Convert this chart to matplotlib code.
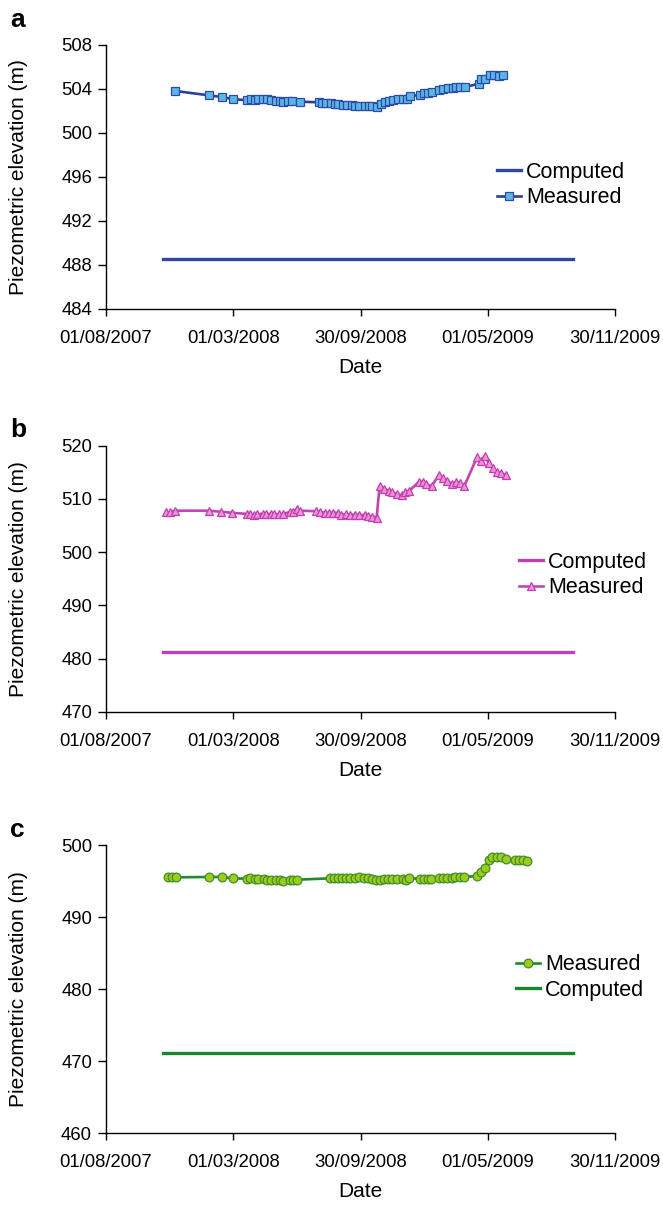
"""
Piezometric elevation: computed vs measured, three wells (a, b, c)
"""
import matplotlib
matplotlib.use('Agg')
import matplotlib.pyplot as plt
import matplotlib.dates as mdates
import pandas as pd

plt.rcParams['font.family'] = ['Liberation Sans', 'DejaVu Sans']

# ---- panel a ----
a_dates = ['2007-11-25', '2008-01-21', '2008-02-11', '2008-02-29', '2008-03-24', '2008-03-30',
           '2008-04-07', '2008-04-11', '2008-04-20', '2008-04-26', '2008-05-04', '2008-05-11',
           '2008-05-18', '2008-05-24', '2008-05-31', '2008-06-08', '2008-06-20', '2008-07-22',
           '2008-07-28', '2008-08-04', '2008-08-11', '2008-08-18', '2008-08-24', '2008-09-01',
           '2008-09-08', '2008-09-15', '2008-09-21', '2008-09-28', '2008-10-07', '2008-10-14',
           '2008-10-20', '2008-10-27', '2008-11-03', '2008-11-10', '2008-11-16', '2008-11-24',
           '2008-12-02', '2008-12-10', '2008-12-17', '2008-12-22', '2009-01-08', '2009-01-15',
           '2009-01-21', '2009-01-28', '2009-02-08', '2009-02-15', '2009-02-23', '2009-03-03',
           '2009-03-09', '2009-03-16', '2009-03-24', '2009-04-16', '2009-04-20', '2009-04-27',
           '2009-05-04', '2009-05-11', '2009-05-19', '2009-05-26']
a_measured = [503.82, 503.42, 503.27, 503.09, 502.97, 503.09,
              502.97, 503.06, 503.09, 503.06, 502.97, 502.91,
              502.88, 502.79, 502.88, 502.88, 502.85, 502.79,
              502.70, 502.70, 502.70, 502.67, 502.61, 502.55,
              502.52, 502.52, 502.48, 502.45, 502.48, 502.48,
              502.42, 502.33, 502.64, 502.82, 502.94, 503.03,
              503.09, 503.09, 503.12, 503.33, 503.48, 503.61,
              503.61, 503.70, 503.94, 504.03, 504.06, 504.09,
              504.18, 504.21, 504.18, 504.48, 504.88, 504.91,
              505.24, 505.27, 505.21, 505.24]
a_computed = 488.5

# ---- panel b ----
b_dates = ['2007-11-10', '2007-11-16', '2007-11-24', '2008-01-20', '2008-02-09', '2008-02-28',
           '2008-03-24', '2008-03-29', '2008-04-05', '2008-04-10', '2008-04-19', '2008-04-25',
           '2008-05-03', '2008-05-09', '2008-05-16', '2008-05-23', '2008-06-04', '2008-06-09',
           '2008-06-15', '2008-06-20', '2008-07-18', '2008-07-25', '2008-08-01', '2008-08-09',
           '2008-08-15', '2008-08-23', '2008-08-29', '2008-09-06', '2008-09-12', '2008-09-20',
           '2008-09-27', '2008-10-08', '2008-10-13', '2008-10-20', '2008-10-27', '2008-11-01',
           '2008-11-08', '2008-11-16', '2008-11-22', '2008-11-30', '2008-12-09', '2008-12-14',
           '2008-12-21', '2009-01-06', '2009-01-12', '2009-01-18', '2009-01-27', '2009-02-08',
           '2009-02-15', '2009-02-22', '2009-03-02', '2009-03-09', '2009-03-15', '2009-03-23',
           '2009-04-13', '2009-04-19', '2009-04-26', '2009-05-03', '2009-05-10', '2009-05-17',
           '2009-05-24', '2009-06-01']
b_measured = [507.5, 507.5, 507.8, 507.8, 507.6, 507.4,
              507.2, 507.25, 507.05, 507.1, 507.25, 507.2,
              507.2, 507.2, 507.1, 507.2, 507.55, 507.55,
              508.07, 507.8, 507.7, 507.6, 507.4, 507.4,
              507.4, 507.4, 507.05, 507.1, 507.05, 507.05,
              507.0, 507.0, 506.8, 506.7, 506.5, 512.4,
              511.9, 511.55, 511.25, 510.9, 510.7, 511.3,
              511.55, 513.25, 513.2, 512.8, 512.4, 514.45,
              513.9, 513.4, 512.8, 513.2, 512.95, 512.5,
              517.8, 517.1, 518.1, 516.7, 515.8, 515.1,
              514.8, 514.5]
b_computed = 481.3

# ---- panel c ----
c_dates = ['2007-11-13', '2007-11-19', '2007-11-26', '2008-01-21', '2008-02-11', '2008-02-29',
           '2008-03-24', '2008-03-29', '2008-04-06', '2008-04-11', '2008-04-21', '2008-04-27',
           '2008-05-04', '2008-05-11', '2008-05-18', '2008-05-24', '2008-06-04', '2008-06-09',
           '2008-06-15', '2008-08-10', '2008-08-16', '2008-08-23', '2008-08-30', '2008-09-06',
           '2008-09-13', '2008-09-21', '2008-09-27', '2008-10-06', '2008-10-13', '2008-10-19',
           '2008-10-26', '2008-11-02', '2008-11-08', '2008-11-15', '2008-11-22', '2008-11-30',
           '2008-12-10', '2008-12-15', '2008-12-20', '2009-01-08', '2009-01-15', '2009-01-21',
           '2009-01-26', '2009-02-08', '2009-02-15', '2009-02-22', '2009-03-02', '2009-03-08',
           '2009-03-15', '2009-03-22', '2009-04-13', '2009-04-19', '2009-04-26', '2009-05-03',
           '2009-05-08', '2009-05-17', '2009-05-24', '2009-05-31', '2009-06-15', '2009-06-22',
           '2009-06-29', '2009-07-05']
c_measured = [495.51, 495.51, 495.51, 495.56, 495.56, 495.37,
              495.32, 495.42, 495.23, 495.23, 495.23, 495.09,
              495.14, 495.09, 495.09, 495.0, 495.14, 495.18,
              495.18, 495.37, 495.37, 495.37, 495.37, 495.37,
              495.37, 495.37, 495.51, 495.37, 495.42, 495.23,
              495.14, 495.14, 495.28, 495.28, 495.28, 495.23,
              495.23, 495.18, 495.42, 495.28, 495.28, 495.23,
              495.32, 495.42, 495.42, 495.46, 495.46, 495.51,
              495.6, 495.56, 495.69, 496.25, 496.76, 497.92,
              498.29, 498.29, 498.29, 498.06, 497.96, 497.96,
              497.96, 497.82]
c_computed = 471.1

computed_span = ['2007-11-05', '2009-09-20']
x_ticks = ['2007-08-01', '2008-03-01', '2008-09-30', '2009-05-01', '2009-11-30']

panels = [
    dict(letter='a', dates=a_dates, meas=a_measured, comp=a_computed, ylim=(484, 508), yticks=range(484, 509, 4),
         rect=(45, 309), line='#2c3f9c', comp_col='#2e47a6', marker='s', mface='#5cb6e4', medge='#2d4aa8',
         order=('comp', 'meas'), leg=(497, 185), ms=5.8),
    dict(letter='b', dates=b_dates, meas=b_measured, comp=b_computed, ylim=(470, 520), yticks=range(470, 521, 10),
         rect=(445.7, 712), line='#c044b4', comp_col='#c040b8', marker='^', mface='#ec92d6', medge='#c23fb2',
         order=('comp', 'meas'), leg=(519, 575), ms=6.3),
    dict(letter='c', dates=c_dates, meas=c_measured, comp=c_computed, ylim=(460, 500), yticks=range(460, 501, 10),
         rect=(845, 1133), line='#238a2c', comp_col='#18862a', marker='o', mface='#9dcc1c', medge='#3f8f2a',
         order=('meas', 'comp'), leg=(516, 977.5), ms=6.3),
]

W, H = 663, 1207
fig = plt.figure(figsize=(W / 100, H / 100), dpi=100)
left, right = 106, 615

for p in panels:
    top, bot = p['rect']
    ax = fig.add_axes([left / W, 1 - bot / H, (right - left) / W, (bot - top) / H])
    d = pd.to_datetime(p['dates'])
    span = pd.to_datetime(computed_span)
    hc, = ax.plot(span, [p['comp'], p['comp']], color=p['comp_col'], lw=2.4, label='Computed')
    hm, = ax.plot(d, p['meas'], color=p['line'], lw=1.9, marker=p['marker'], ms=p['ms'],
                  mfc=p['mface'], mec=p['medge'], mew=0.9, label='Measured')

    ax.set_xlim(pd.Timestamp(x_ticks[0]), pd.Timestamp(x_ticks[-1]))
    ax.set_ylim(*p['ylim'])
    ax.set_xticks(pd.to_datetime(x_ticks))
    ax.xaxis.set_major_formatter(mdates.DateFormatter('%d/%m/%Y'))
    ax.set_yticks(list(p['yticks']))
    for s in ['top', 'right']:
        ax.spines[s].set_visible(False)
    for s in ['left', 'bottom']:
        ax.spines[s].set_linewidth(1.0)
    ax.tick_params(axis='x', direction='out', length=5, width=1, labelsize=13.3, pad=10)
    ax.tick_params(axis='y', direction='out', length=6, width=1, labelsize=13.3, pad=4)
    ax.set_xlabel('Date', fontsize=15, labelpad=8)
    ax.set_ylabel('Piezometric elevation (m)', fontsize=15, labelpad=24)

    handles = [hc, hm] if p['order'] == ('comp', 'meas') else [hm, hc]
    lx, ly = p['leg']
    ax.legend(handles=handles, loc='center left', bbox_to_anchor=(lx / W, 1 - ly / H),
              bbox_transform=fig.transFigure, frameon=False, fontsize=15.5, borderpad=0,
              borderaxespad=0, handlelength=1.1, handletextpad=0.25, labelspacing=0.2,
              numpoints=1)

    fig.text(10 / W, 1 - {'a': 27, 'b': 437, 'c': 837}[p['letter']] / H, p['letter'],
             fontsize=19, fontweight='bold', va='baseline', ha='left')

fig.savefig('out.png', dpi=100)
